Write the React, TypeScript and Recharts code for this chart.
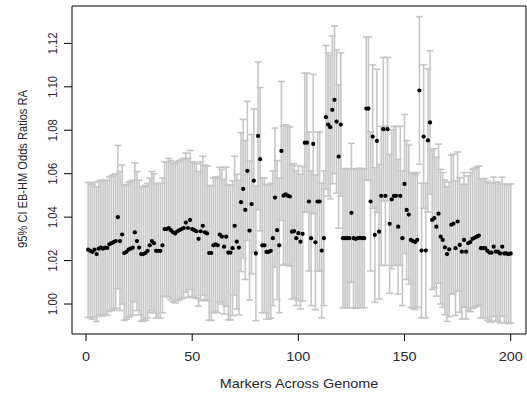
import { ScatterChart, Scatter, XAxis, YAxis, ErrorBar, ReferenceArea } from "recharts";

// marker index along the genome
const markerIdx = Array.from({ length: 200 }, (_, i) => i + 1);

// point estimates (markers 1..200)
const oddsRatio = [
  1.025, 1.0245, 1.024, 1.025, 1.023, 1.0255, 1.026, 1.0255, 1.026, 1.0258,
  1.0275, 1.028, 1.0285, 1.029, 1.04, 1.029, 1.032, 1.0235, 1.024, 1.025,
  1.0255, 1.026, 1.033, 1.029, 1.026, 1.023, 1.023, 1.0235, 1.0245, 1.027,
  1.029, 1.028, 1.0245, 1.0245, 1.0245, 1.027, 1.0345, 1.0345, 1.035, 1.034,
  1.033, 1.0325, 1.0335, 1.034, 1.0345, 1.035, 1.0375, 1.035, 1.0387, 1.0345,
  1.034, 1.0335, 1.03, 1.0335, 1.036, 1.033, 1.0325, 1.0235, 1.0235, 1.027,
  1.0275, 1.027, 1.032, 1.031, 1.0264, 1.031, 1.0237, 1.0237, 1.0257, 1.036,
  1.0287, 1.026, 1.0469, 1.053, 1.0433, 1.0613, 1.0338, 1.046, 1.0568, 1.0233,
  1.0774, 1.0667, 1.027, 1.027, 1.024, 1.024, 1.0245, 1.0303, 1.049, 1.034,
  1.027, 1.0705, 1.0499, 1.0505, 1.0499, 1.0495, 1.0333, 1.0336, 1.0303, 1.0326,
  1.0287, 1.0323, 1.0743, 1.0743, 1.0472, 1.0303, 1.0737, 1.0284, 1.0472, 1.0472,
  1.0246, 1.0303, 1.086, 1.0826, 1.0814, 1.0894, 1.094, 1.084, 1.0679, 1.0826,
  1.0303, 1.0303, 1.0303, 1.0303, 1.042, 1.0303, 1.03, 1.0303, 1.0305, 1.0303,
  1.0303, 1.09, 1.09, 1.0472, 1.0771, 1.0318, 1.0751, 1.0333, 1.0498, 1.0805,
  1.0498, 1.0805, 1.0369, 1.0482, 1.0498, 1.0498, 1.0356, 1.0498, 1.0303, 1.0553,
  1.0433, 1.0412, 1.0295, 1.029, 1.0285, 1.0295, 1.0983, 1.0246, 1.0771, 1.0246,
  1.0753, 1.0836, 1.0387, 1.0395, 1.0356, 1.0416, 1.031, 1.0295, 1.0261, 1.023,
  1.0252, 1.0365, 1.037, 1.0257, 1.038, 1.0272, 1.0241, 1.0295, 1.0241, 1.028,
  1.0285, 1.03, 1.0305, 1.031, 1.0315, 1.0257, 1.0257, 1.0257, 1.0245, 1.0237,
  1.0237, 1.0264, 1.0241, 1.0241, 1.0233, 1.0264, 1.0233, 1.0233, 1.023, 1.0233,
];

// half width of the 95% CI for each marker
const ciHalf = [
  0.031, 0.031, 0.031, 0.031, 0.031, 0.031, 0.031, 0.031, 0.031, 0.031,
  0.031, 0.031, 0.031, 0.031, 0.033, 0.032, 0.032, 0.031, 0.031, 0.031,
  0.031, 0.031, 0.032, 0.032, 0.031, 0.031, 0.031, 0.031, 0.031, 0.031,
  0.032, 0.032, 0.031, 0.031, 0.031, 0.031, 0.031, 0.031, 0.032, 0.032,
  0.032, 0.032, 0.032, 0.032, 0.032, 0.032, 0.032, 0.032, 0.032, 0.031,
  0.031, 0.031, 0.031, 0.032, 0.032, 0.031, 0.031, 0.031, 0.031, 0.031,
  0.031, 0.031, 0.031, 0.031, 0.031, 0.032, 0.031, 0.031, 0.031, 0.032,
  0.031, 0.031, 0.032, 0.032, 0.032, 0.032, 0.032, 0.032, 0.033, 0.031,
  0.034, 0.033, 0.031, 0.031, 0.031, 0.031, 0.031, 0.031, 0.032, 0.032,
  0.031, 0.032, 0.032, 0.032, 0.032, 0.032, 0.031, 0.031, 0.031, 0.031,
  0.031, 0.031, 0.032, 0.032, 0.032, 0.031, 0.032, 0.031, 0.032, 0.032,
  0.031, 0.031, 0.033, 0.033, 0.033, 0.034, 0.034, 0.033, 0.033, 0.033,
  0.032, 0.032, 0.032, 0.032, 0.032, 0.032, 0.032, 0.032, 0.032, 0.032,
  0.032, 0.033, 0.033, 0.032, 0.033, 0.031, 0.033, 0.031, 0.032, 0.033,
  0.032, 0.033, 0.032, 0.032, 0.032, 0.032, 0.031, 0.032, 0.031, 0.032,
  0.032, 0.032, 0.031, 0.031, 0.031, 0.031, 0.034, 0.031, 0.033, 0.031,
  0.033, 0.033, 0.032, 0.032, 0.032, 0.032, 0.031, 0.031, 0.031, 0.031,
  0.031, 0.032, 0.032, 0.031, 0.032, 0.031, 0.031, 0.031, 0.031, 0.031,
  0.032, 0.032, 0.032, 0.032, 0.032, 0.032, 0.032, 0.032, 0.032, 0.032,
  0.032, 0.032, 0.032, 0.032, 0.032, 0.032, 0.032, 0.032, 0.032, 0.032,
];

const xTicks = [0, 50, 100, 150, 200];
const yTicks = [1.0, 1.02, 1.04, 1.06, 1.08, 1.1, 1.12];
const xDomain = [-6.6, 207.2];
const yDomain = [0.9862, 1.1372];

const data = markerIdx.map((m, i) => ({ x: m, y: oddsRatio[i], ci: ciHalf[i] }));

const font = "'Liberation Sans', Arial, sans-serif";
const ink = "#262630";

function XTick({ x, y, payload }: any) {
  return (
    <g transform={`translate(${x},${y + 18}) scale(1.2,1)`}>
      <text x={0} y={0} textAnchor="middle" fontSize={12} fontFamily={font} fill={ink}>
        {payload.value}
      </text>
    </g>
  );
}

function YTick({ x, y, payload }: any) {
  return (
    <g transform={`translate(${x - 5},${y}) scale(1.2,1) rotate(-90)`}>
      <text x={0} y={0} textAnchor="middle" fontSize={11.2} fontFamily={font} fill={ink}>
        {payload.value.toFixed(2)}
      </text>
    </g>
  );
}

const Dot = (p: any) => <circle cx={p.cx} cy={p.cy} r={2.1} fill="#000" />;

export default function App() {
  return (
    <div style={{ position: "absolute", left: 0, top: 0, width: 527, height: 396, background: "#fff" }}>
      <ScatterChart width={527} height={396} margin={{ top: 6, right: 1, bottom: 0, left: 0 }}>
        <XAxis
          type="number"
          dataKey="x"
          domain={xDomain}
          ticks={xTicks}
          allowDataOverflow
          height={62}
          axisLine={false}
          tickSize={7}
          tickLine={{ stroke: "#000" }}
          tick={<XTick />}
        />
        <YAxis
          type="number"
          dataKey="y"
          domain={yDomain}
          ticks={yTicks}
          allowDataOverflow
          width={72}
          axisLine={false}
          tickSize={8}
          tickLine={{ stroke: "#000" }}
          tick={<YTick />}
        />
        <Scatter data={data} shape={Dot} isAnimationActive={false}>
          <ErrorBar dataKey="ci" direction="y" width={3.5} stroke="#c6c6c6" strokeWidth={1.6} isAnimationActive={false} />
        </Scatter>
        <ReferenceArea
          x1={xDomain[0]}
          x2={xDomain[1]}
          y1={yDomain[0]}
          y2={yDomain[1]}
          fill="none"
          stroke="#000"
          strokeWidth={1}
          ifOverflow="visible"
        />
      </ScatterChart>
      <svg width={527} height={396} style={{ position: "absolute", left: 0, top: 0, pointerEvents: "none" }}>
        <g transform="translate(299,388) scale(1.2,1)">
          <text textAnchor="middle" fontSize={12} fontFamily={font} fill={ink}>
            Markers Across Genome
          </text>
        </g>
        <g transform="translate(27,169) scale(1.2,1) rotate(-90)">
          <text textAnchor="middle" fontSize={11.1} fontFamily={font} fill={ink}>
            95% CI EB-HM Odds Ratios RA
          </text>
        </g>
      </svg>
    </div>
  );
}
